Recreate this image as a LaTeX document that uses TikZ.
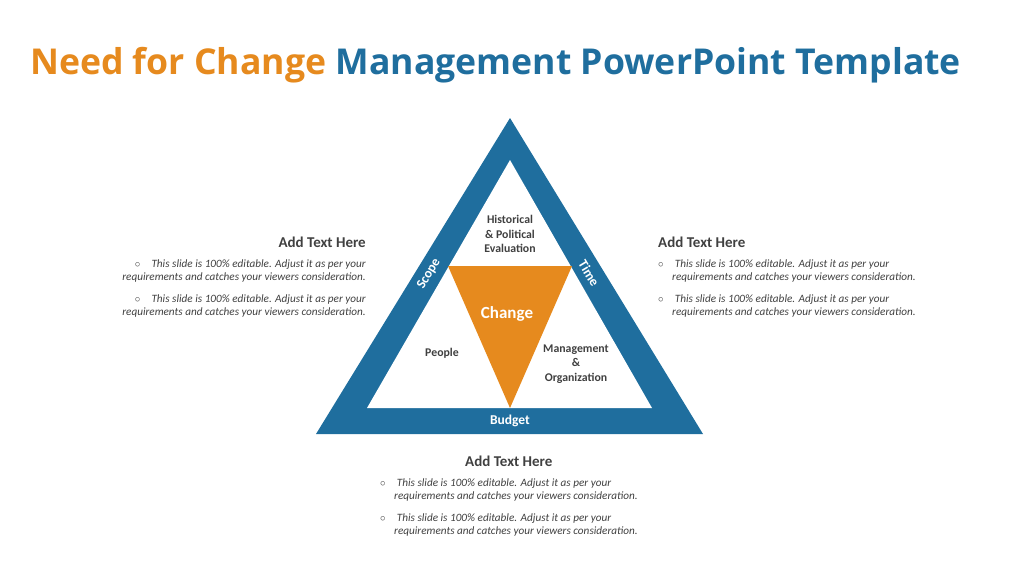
\documentclass[tikz,border=0pt]{standalone}
\usepackage{fontspec}
\setmainfont{Carlito}
\newfontfamily\titlefont{Open Sans}
\definecolor{orng}{HTML}{E68A1E}
\definecolor{blu}{HTML}{1F6E9E}
\definecolor{txt}{HTML}{404040}
\begin{document}
\begin{tikzpicture}[x=1pt,y=-1pt,
  hd/.style={font=\bfseries\fontsize{15}{17}\selectfont,text=txt,inner sep=0},
  bl/.style={font=\itshape\fontsize{11.2}{13}\selectfont,text=txt,inner sep=0},
  lab/.style={font=\bfseries\fontsize{11.8}{14.5}\selectfont,text=txt,align=center,inner sep=0},
  wl/.style={font=\bfseries\fontsize{13.5}{15}\selectfont,text=white,inner sep=0}]
\useasboundingbox (0,0) rectangle (1024,576);
\node[anchor=base west,inner sep=0,font=\titlefont\bfseries\fontsize{35.6}{40}\selectfont] (title) at (30,74) {\textcolor{orng}{Need for Change} \textcolor{blu}{Management PowerPoint Template}};
% triangle
\fill[blu] (510,118) -- (703,434) -- (316,434) -- cycle;
\fill[white] (510,160) -- (652,408) -- (367,408) -- cycle;
\fill[orng] (448,266) -- (572,266) -- (510,408) -- cycle;
\node[lab] (hist) at (510,234) {Historical\\\& Political\\Evaluation};
\node[lab] (ppl) at (442,353) {People};
\node[lab] (mgmt) at (576,364) {Management\\\&\\Organization};
\node[font=\bfseries\fontsize{17}{19}\selectfont,text=white,inner sep=0] (chg) at (507,314) {Change};
\node[wl,rotate=59] (scope) at (429,274) {Scope};
\node[wl,rotate=-59] (time) at (589,273) {Time};
\node[wl] (budget) at (510,421) {Budget};
% left block
\node[hd,anchor=base east] (lh) at (366,247) {Add Text Here};
\node[bl,anchor=base east] (l1) at (366,267) {$\circ$\quad This slide is 100\% editable. Adjust it as per your};
\node[bl,anchor=base east] (l2) at (366,280) {requirements and catches your viewers consideration.};
\node[bl,anchor=base east] (l3) at (366,302) {$\circ$\quad This slide is 100\% editable. Adjust it as per your};
\node[bl,anchor=base east] (l4) at (366,315) {requirements and catches your viewers consideration.};
% right block
\node[hd,anchor=base west] (rh) at (658,247) {Add Text Here};
\node[bl,anchor=base west] (r1) at (658,267) {$\circ$\quad This slide is 100\% editable. Adjust it as per your};
\node[bl,anchor=base west] (r2) at (672,280) {requirements and catches your viewers consideration.};
\node[bl,anchor=base west] (r3) at (658,302) {$\circ$\quad This slide is 100\% editable. Adjust it as per your};
\node[bl,anchor=base west] (r4) at (672,315) {requirements and catches your viewers consideration.};
% bottom block
\node[hd,anchor=base west] (bh) at (465,466) {Add Text Here};
\node[bl,anchor=base west] (b1) at (380,486) {$\circ$\quad This slide is 100\% editable. Adjust it as per your};
\node[bl,anchor=base west] (b2) at (394,499) {requirements and catches your viewers consideration.};
\node[bl,anchor=base west] (b3) at (380,521) {$\circ$\quad This slide is 100\% editable. Adjust it as per your};
\node[bl,anchor=base west] (b4) at (394,534) {requirements and catches your viewers consideration.};
\end{tikzpicture}
\end{document}
